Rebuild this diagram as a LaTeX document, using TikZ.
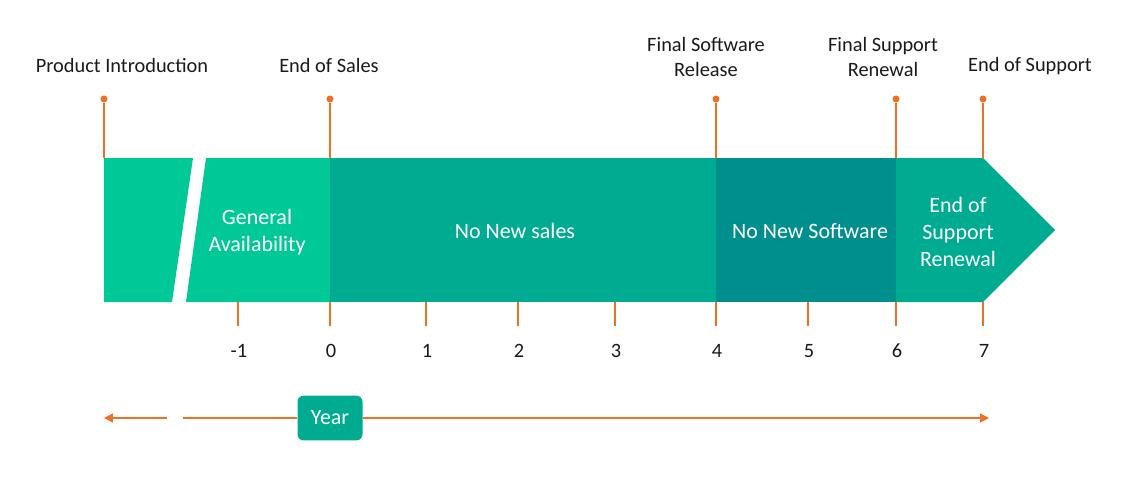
\documentclass[tikz,border=0pt]{standalone}
\usepackage{fontspec}
\setmainfont{Carlito}
\usetikzlibrary{arrows.meta}
\definecolor{ga}{HTML}{00C896}
\definecolor{sale}{HTML}{00AC91}
\definecolor{soft}{HTML}{008F8C}
\definecolor{orng}{HTML}{F07023}
\definecolor{capt}{HTML}{1A1A1A}

\begin{document}
\begin{tikzpicture}[x=0.02cm, y=-0.02cm,
    ms/.style={font=\fontsize{11.6}{14.6}\selectfont, text=capt, align=center},
    bl/.style={font=\fontsize{12.5}{15.6}\selectfont, text=white, align=center},
    tk/.style={font=\fontsize{11.6}{14}\selectfont, text=capt},
    pin/.style={draw=orng, line width=0.7pt},
    dot/.style={circle, fill=orng, inner sep=0pt, minimum size=4pt},
    yr/.style={draw=orng, line width=0.8pt, -{Triangle[length=5pt,width=5pt]}}]

  \useasboundingbox (0,0) rectangle (1124,478);

  % ── phase band: broken start, sales, software, arrow head ──
  \fill[ga]   (104,158) -- (193,158) -- (172,302) -- (104,302) -- cycle;
  \fill[ga]   (206,158) -- (330,158) -- (330,302) -- (186,302) -- cycle;
  \fill[sale] (330,158) rectangle (716,302);
  \fill[soft] (716,158) rectangle (896,302);
  \fill[sale] (896,158) -- (983,158) -- (1055,230) -- (983,302) -- (896,302) -- cycle;

  \node[bl] (ga)   at (257,232) {General\\Availability};
  \node[bl] (ns)   at (515,231) {No New sales};
  \node[bl] (nsw)  at (810,231) {No New Software};
  \node[bl] (eosr) at (958,232) {End of\\Support\\Renewal};

  % ── milestones above the band ──
  \foreach \x/\nm in {104/pi, 330/eos, 716/fsr, 896/fsu, 983/esu} {
    \node[dot] (d\nm) at (\x,99) {};
    \coordinate (b\nm) at (\x,158);
    \draw[pin] (d\nm) -- (b\nm);
  }
  \node[ms] (lpi)  at (122,65) {Product Introduction};
  \node[ms] (leos) at (329,65) {End of Sales};
  \node[ms] (lfsr) at (706,57) {Final Software\\Release};
  \node[ms] (lfsu) at (883,57) {Final Support\\Renewal};
  \node[ms] (lesu) at (1030,66) {End of Support};

  % ── year ticks below the band ──
  \foreach \x/\n [count=\i] in {238/-1, 330/0, 426/1, 518/2, 615/3, 716/4, 808/5, 896/6, 983/7} {
    \coordinate (ta\i) at (\x,302);
    \coordinate (tb\i) at (\x,326);
    \draw[pin] (ta\i) -- (tb\i);
    \node[tk] (tl\i) at (\x+1,351) {\n};
  }

  % ── year axis ──
  \coordinate (al) at (104,418);
  \coordinate (ab) at (167,418);
  \coordinate (ac) at (183,418);
  \coordinate (ar) at (989,418);
  \node[fill=sale, rounded corners=3.5pt, minimum width=37pt, minimum height=25.5pt,
        inner sep=0pt, font=\fontsize{12.5}{15}\selectfont, text=white] (year) at (330,418) {Year};
  \draw[yr] (ab) -- (al);
  \draw[pin] (ac) -- (year.west);
  \draw[yr] (year.east) -- (ar);
\end{tikzpicture}
\end{document}
